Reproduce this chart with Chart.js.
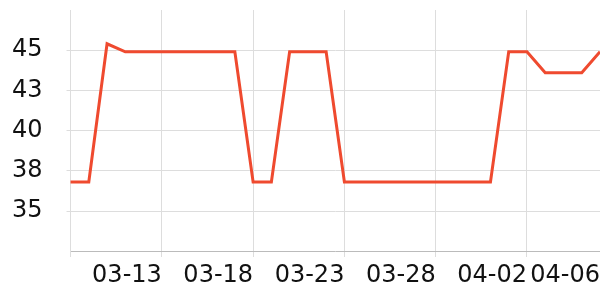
<!DOCTYPE html>
<html>
<head>
<meta charset="utf-8">
<script src="https://cdn.jsdelivr.net/npm/chart.js@4"></script>
<style>
  html, body { margin: 0; padding: 0; background: #fff; }
  #wrap { width: 600px; height: 300px; }
</style>
</head>
<body>
<div id="wrap"><canvas id="myChart"></canvas></div>
<script>
const dates = [
  "03-08", "03-09", "03-10", "03-11", "03-12", "03-13", "03-14", "03-15",
  "03-16", "03-17", "03-18", "03-19", "03-20", "03-21", "03-22", "03-23",
  "03-24", "03-25", "03-26", "03-27", "03-28", "03-29", "03-30", "03-31",
  "04-01", "04-02", "04-03", "04-04", "04-05", "04-06"
];
const values = [
  36.8, 36.8, 45.4, 44.9, 44.9, 44.9, 44.9, 44.9, 44.9, 44.9,
  36.8, 36.8, 44.9, 44.9, 44.9, 36.8, 36.8, 36.8, 36.8, 36.8,
  36.8, 36.8, 36.8, 36.8, 44.9, 44.9, 43.6, 43.6, 43.6, 44.9
];
// labelled dates on the x axis (first date keeps its grid line, no label)
const tickLabels = ["03-13", "03-18", "03-23", "03-28", "04-02", "04-06"];
const yTicks = [35, 37.5, 40, 42.5, 45];

const ctx = document.getElementById("myChart").getContext("2d");
new Chart(ctx, {
  type: "line",
  data: {
    labels: dates,
    datasets: [{
      data: values,
      borderColor: "#ef4a2f",
      borderWidth: 3,
      pointRadius: 0,
      tension: 0,
      fill: false
    }]
  },
  options: {
    animation: false,
    responsive: true,
    maintainAspectRatio: false,
    layout: { padding: { top: 10, left: 12, right: 0, bottom: 10 } },
    plugins: { legend: { display: false }, tooltip: { enabled: false } },
    scales: {
      x: {
        afterBuildTicks: (axis) => {
          axis.ticks = axis.ticks.filter((t) =>
            t.value === 0 || tickLabels.includes(dates[t.value]));
        },
        // long tick area for spacing, only the first 5px is drawn
        grid: { color: "#dddddd", tickLength: 10, tickBorderDash: [5, 20] },
        border: { color: "#bbbbbb" },
        ticks: {
          autoSkip: false,
          maxRotation: 0,
          align: "end",
          padding: 0,
          color: "#111",
          font: { family: "DejaVu Sans", size: 24 },
          callback: function (value) {
            const d = this.getLabelForValue(value);
            return tickLabels.includes(d) ? d : "";
          }
        }
      },
      y: {
        min: 32.5,
        max: 47.5,
        afterBuildTicks: (axis) => {
          axis.ticks = yTicks.map((v) => ({ value: v }));
        },
        grid: { color: "#dddddd", tickLength: 28, tickBorderDash: [0, 24, 4, 0] },
        border: { color: "#dddddd" },
        ticks: {
          padding: 0,
          color: "#111",
          font: { family: "DejaVu Sans", size: 24, lineHeight: 0.8 },
          callback: (v) => Math.round(v)
        }
      }
    }
  }
});
</script>
</body>
</html>
